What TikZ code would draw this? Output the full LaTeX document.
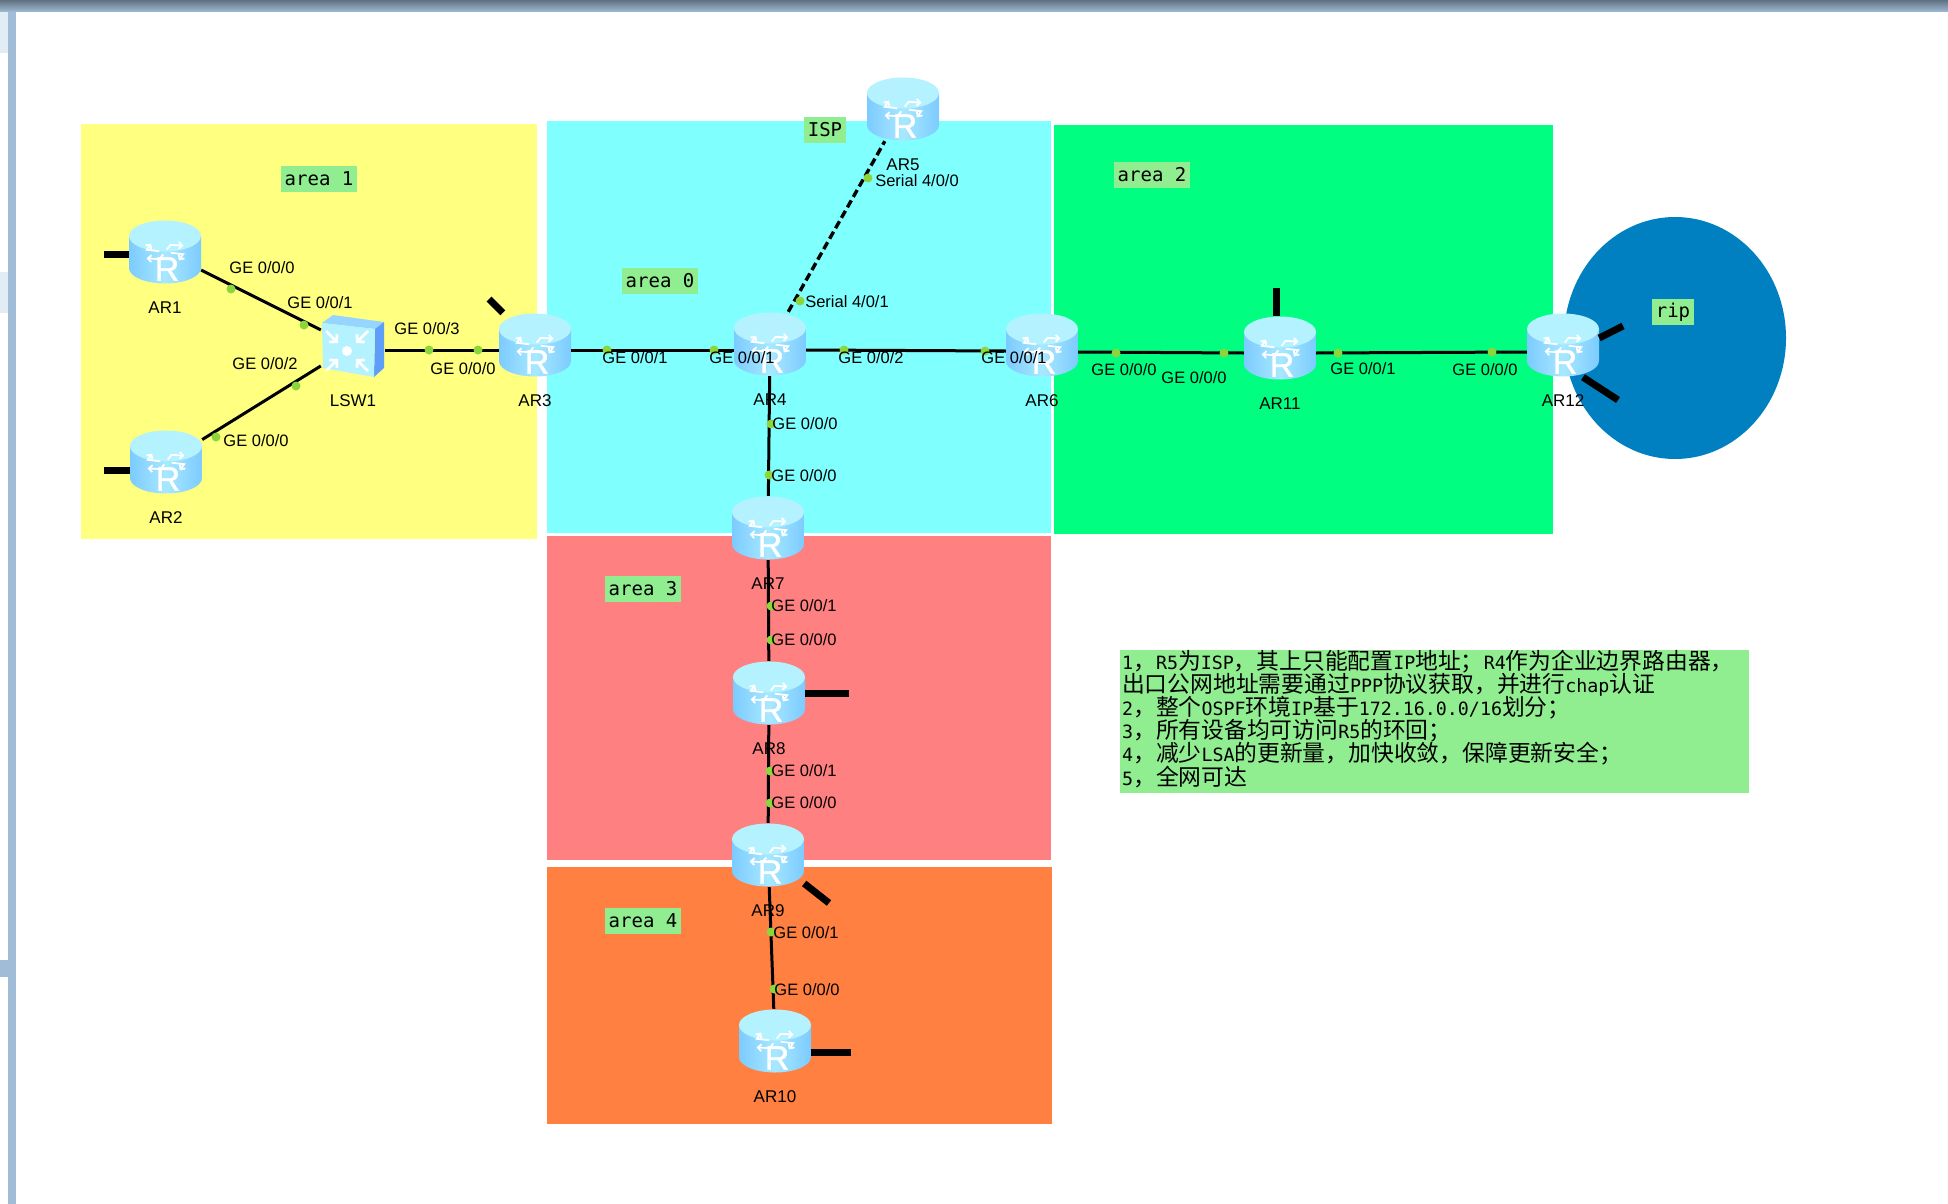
\documentclass[tikz,border=0pt]{standalone}
\usepackage{fontspec}
\setmainfont{Liberation Sans}
\newfontfamily\monofam{DejaVu Sans Mono}
\newfontfamily\iconfam{Liberation Sans}[FakeBold=1.2]
\newfontfamily\cjk{Noto Sans CJK SC}[Scale=1.245]
\usepackage{tikz}
\usetikzlibrary{arrows.meta}
\usetikzlibrary{shapes.geometric}
\definecolor{hw-yellow}{HTML}{FFFF80}
\definecolor{hw-cyan}{HTML}{80FFFF}
\definecolor{hw-green}{HTML}{00FF80}
\definecolor{hw-red}{HTML}{FF8080}
\definecolor{hw-orange}{HTML}{FF8040}
\definecolor{hw-blue}{HTML}{0080C0}
\definecolor{hw-tag}{HTML}{90EE90}
\definecolor{hw-port}{HTML}{8CD63C}
\definecolor{hw-bar}{HTML}{A0BCD6}
\definecolor{hw-barlight}{HTML}{E2ECF5}
\definecolor{hw-side}{HTML}{7CCBFF}
\definecolor{hw-mid}{HTML}{A8E8FF}
\definecolor{hw-top}{HTML}{B4F2FF}
\definecolor{hw-swside}{HTML}{5E9EF8}
\newcommand{\zh}[1]{{\cjk #1}}

\begin{document}
\begin{tikzpicture}[
    x=1pt, y=-1pt,
    routerbody/.style={
        inner sep=0pt, minimum width=72pt, minimum height=64pt,
        path picture={
            \begin{scope}[shift={(path picture bounding box.center)}]
                \shade[left color=hw-side, right color=hw-side, middle color=hw-mid]
                    (-36,-16) -- (-36,16) arc[start angle=180, end angle=0, x radius=36, y radius=15.5] -- (36,-16) -- cycle;
                \fill[hw-top] (0,-16) ellipse[x radius=36, y radius=15.5];
                \foreach \a in {45,135,225,315}{
                    \draw[white, line width=1.8pt, shift={(0,-16)}, -{Straight Barb[length=3.5pt, width=7pt]}]
                        (\a-28:6 and 2.5) -- (\a-28:19 and 7.5) -- (\a+8:23 and 10.5);
                }
                \node[text=white, inner sep=0pt, font=\iconfam\fontsize{34}{34}\selectfont] at (2,17) {R};
            \end{scope}
        }
    },
    router/.style={routerbody, label={[devlabel]below:#1}},
    switch/.style={
        inner sep=0pt, minimum width=64pt, minimum height=63pt,
        label={[devlabel]below:#1},
        path picture={
            \begin{scope}[shift={(path picture bounding box.center)}]
                \fill[hw-side!80!white] (-31,-23) -- (-20,-31) -- (31,-24) -- (22,-17) -- cycle;
                \fill[hw-swside] (22,-17) -- (31,-24) -- (31,22) -- (21,31) -- cycle;
                \fill[hw-top] (-31,-23) -- (22,-17) -- (21,31) -- (-30,22) -- cycle;
                \fill[white] (-6,5) circle[radius=5];
                \foreach \dx/\dy in {-1/-1,1/-1,-1/1,1/1}{
                    \draw[white, line width=2.8pt, -{Straight Barb[length=5pt, width=11pt]}]
                        (-6+\dx*21,5+\dy*20) -- (-6+\dx*9,5+\dy*8);
                }
            \end{scope}
        }
    },
    devlabel/.style={font=\fontsize{17}{17}\selectfont, text=black, inner sep=0pt, label distance=17pt, align=center},
    wire/.style={draw=black, line width=3pt},
    serial/.style={draw=black, line width=3.4pt, dash pattern=on 8pt off 4pt},
    stub/.style={draw=black, line width=7pt},
    port/.style={circle, fill=hw-port, inner sep=0pt, minimum size=9pt},
    portlabel/.style={font=\fontsize{16.5}{16.5}\selectfont, text=black, inner sep=0pt},
    tag/.style={fill=hw-tag, inner xsep=3.5pt, inner ysep=0pt, minimum height=26pt,
                font=\monofam\fontsize{19}{19}\selectfont, text=black},
    area/.style={rectangle, inner sep=0pt, anchor=north west}
]
\useasboundingbox (0,0) rectangle (1948,1204);

% =========================================================================
% WINDOW FRAME
% =========================================================================
\fill[hw-bar] (8,0) rectangle (16,1204);
\fill[hw-barlight] (0,12) rectangle (8,53);
\fill[hw-barlight] (0,272) rectangle (8,313);
\fill[hw-bar] (0,960) rectangle (8,977);
\shade[top color=hw-bar!60!black, bottom color=hw-bar] (0,0) rectangle (1948,12);

% =========================================================================
% AREAS
% =========================================================================
\node[area, fill=hw-yellow, minimum width=456pt, minimum height=415pt] (area1box) at (81,124) {};
\node[area, fill=hw-cyan, minimum width=504pt, minimum height=412pt] (area0box) at (547,121) {};
\node[area, fill=hw-green, minimum width=499pt, minimum height=409pt] (area2box) at (1054,125) {};
\node[area, fill=hw-red, minimum width=504pt, minimum height=324pt] (area3box) at (547,536) {};
\node[area, fill=hw-orange, minimum width=505pt, minimum height=257pt] (area4box) at (547,867) {};
\node[ellipse, fill=hw-blue, inner sep=0pt, minimum width=222pt, minimum height=242pt] (ripbox) at (1675,338) {};

\node[tag] (area1) at (319,179) {area 1};
\node[tag] (area2) at (1152,175) {area 2};
\node[tag] (area0) at (660,281) {area 0};
\node[tag] (area3) at (643,589) {area 3};
\node[tag] (area4) at (643,921) {area 4};
\node[tag] (isp) at (825,130) {ISP};
\node[tag] (rip) at (1673,312) {rip};

% =========================================================================
% DEVICES
% =========================================================================
\node[router=AR1] (ar1) at (165,252) {};
\node[router=AR2] (ar2) at (166,462) {};
\node[switch=LSW1] (lsw1) at (353,346) {};
\node[router=AR3] (ar3) at (535,345) {};
\node[router=AR4] (ar4) at (770,344) {};
\node[router=AR5] (ar5) at (903,109) {};
\node[router=AR6] (ar6) at (1042,345) {};
\node[router=AR11] (ar11) at (1280,348) {};
\node[router=AR12] (ar12) at (1563,345) {};
\node[router=AR7] (ar7) at (768,528) {};
\node[router=AR8] (ar8) at (769,693) {};
\node[router=AR9] (ar9) at (768,855) {};
\node[router=AR10] (ar10) at (775,1041) {};

% =========================================================================
% LINKS
% =========================================================================
\draw[wire] (ar1) -- (lsw1);
\draw[wire] (ar2) -- (lsw1);
\draw[wire] ([yshift=-4pt]lsw1.east) -- ([yshift=-5pt]ar3.west);
\draw[wire] ([yshift=-5pt]ar3.east) -- ([yshift=-6pt]ar4.west);
\draw[wire] ([yshift=-6pt]ar4.east) -- ([yshift=-6pt]ar6.west);
\draw[wire] ([yshift=-7pt]ar6.east) -- ([yshift=-5pt]ar11.west);
\draw[wire] ([yshift=-5pt]ar11.east) -- ([yshift=-7pt]ar12.west);
\draw[serial] (ar4) -- (ar5);
\draw[wire] (ar4) -- (ar7);
\draw[wire] (ar7) -- (ar8);
\draw[wire] (ar8) -- (ar9);
\draw[wire] (ar9) -- (ar10);

% free interfaces
\coordinate (ar1end) at (104,254);
\coordinate (ar2end) at (104,470);
\coordinate (ar3end) at (489,299);
\coordinate (ar8end) at (849,693);
\coordinate (ar9end) at (829,903);
\coordinate (ar10end) at (851,1052);
\coordinate (ar11end) at (1276,288);
\coordinate (ar12up) at (1623,326);
\coordinate (ar12down) at (1618,400);
\draw[stub] (ar1.west |- ar1end) -- (ar1end);
\draw[stub] (ar2.west |- ar2end) -- (ar2end);
\draw[stub] (ar3) -- (ar3end);
\draw[stub] (ar8.east) -- (ar8end);
\draw[stub] (ar9) -- (ar9end);
\draw[stub] (ar10.east |- ar10end) -- (ar10end);
\draw[stub] (ar11.north -| ar11end) -- (ar11end);
\draw[stub] ([yshift=7pt]ar12.east) -- (ar12up);
\draw[stub] ([xshift=20pt]ar12.south) -- (ar12down);

% =========================================================================
% PORTS
% =========================================================================
\node[port] (p1) at (231,289) {};   \node[portlabel] (t1) at (262,268) {GE 0/0/0};
\node[port] (p2) at (304,325) {};   \node[portlabel] (t2) at (320,303) {GE 0/0/1};
\node[port] (p3) at (296,386) {};   \node[portlabel] (t3) at (265,364) {GE 0/0/2};
\node[port] (p4) at (216,437) {};   \node[portlabel] (t4) at (256,441) {GE 0/0/0};
\node[port] (p5) at (429,350) {};   \node[portlabel] (t5) at (427,329) {GE 0/0/3};
\node[port] (p6) at (478,350) {};   \node[portlabel] (t6) at (463,369) {GE 0/0/0};
\node[port] (p7) at (607,350) {};   \node[portlabel] (t7) at (635,358) {GE 0/0/1};
\node[port] (p8) at (714,350) {};   \node[portlabel] (t8) at (742,358) {GE 0/0/1};
\node[port] (p9) at (844,350) {};   \node[portlabel] (t9) at (871,358) {GE 0/0/2};
\node[port] (p10) at (985,351) {};  \node[portlabel] (t10) at (1014,358) {GE 0/0/1};
\node[port] (p11) at (1116,353) {}; \node[portlabel] (t11) at (1124,370) {GE 0/0/0};
\node[port] (p12) at (1224,353) {}; \node[portlabel] (t12) at (1194,378) {GE 0/0/0};
\node[port] (p13) at (1338,353) {}; \node[portlabel] (t13) at (1363,369) {GE 0/0/1};
\node[port] (p14) at (1492,352) {}; \node[portlabel] (t14) at (1485,370) {GE 0/0/0};
\node[port] (p15) at (771,424) {};  \node[portlabel] (t15) at (805,424) {GE 0/0/0};
\node[port] (p16) at (769,475) {};  \node[portlabel] (t16) at (804,476) {GE 0/0/0};
\node[port] (p17) at (771,606) {};  \node[portlabel] (t17) at (804,606) {GE 0/0/1};
\node[port] (p18) at (771,640) {};  \node[portlabel] (t18) at (804,640) {GE 0/0/0};
\node[port] (p19) at (770,771) {};  \node[portlabel] (t19) at (804,771) {GE 0/0/1};
\node[port] (p20) at (770,803) {};  \node[portlabel] (t20) at (804,803) {GE 0/0/0};
\node[port] (p21) at (771,932) {};  \node[portlabel] (t21) at (806,933) {GE 0/0/1};
\node[port] (p22) at (774,989) {};  \node[portlabel] (t22) at (807,990) {GE 0/0/0};
\node[port] (p23) at (868,178) {};  \node[portlabel] (t23) at (917,181) {Serial 4/0/0};
\node[port] (p24) at (800,301) {};  \node[portlabel] (t24) at (847,302) {Serial 4/0/1};

% =========================================================================
% NOTES
% =========================================================================
\node[area, fill=hw-tag, minimum width=629pt, minimum height=143pt] (notesbox) at (1120,650) {};
\node[area, text width=625pt, align=left, text=black,
      font=\monofam\fontsize{18.3}{23.1}\selectfont] (notes) at (notesbox.north west) {%
    \hspace*{2pt}1\zh{，}R5\zh{为}ISP\zh{，其上只能配置}IP\zh{地址；}R4\zh{作为企业边界路由器，}\\
    \hspace*{2pt}\zh{出口公网地址需要通过}PPP\zh{协议获取，并进行}chap\zh{认证}\\
    \hspace*{2pt}2\zh{，整个}OSPF\zh{环境}IP\zh{基于}172.16.0.0/16\zh{划分；}\\
    \hspace*{2pt}3\zh{，所有设备均可访问}R5\zh{的环回；}\\
    \hspace*{2pt}4\zh{，减少}LSA\zh{的更新量，加快收敛，保障更新安全；}\\
    \hspace*{2pt}5\zh{，全网可达}
};

\end{tikzpicture}
\end{document}
